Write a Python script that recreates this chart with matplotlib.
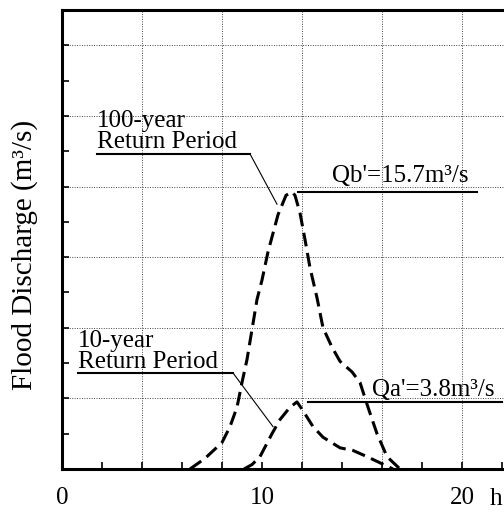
import matplotlib.pyplot as plt

plt.rcParams['font.family'] = ['Liberation Serif', 'DejaVu Serif']

# hydrograph, 100-year return period (hours, m3/s)
hours_100 = [6.4, 7.15, 8.0, 8.4, 8.75, 9.0, 9.25, 9.5, 9.75, 10.0, 10.3, 10.8,
             11.2, 11.5, 11.65, 11.9, 12.15, 12.4, 12.75, 13.05, 13.5, 13.9,
             14.5, 14.9, 15.3, 15.75, 16.25, 16.9]
flow_100 = [0, 0.6, 1.5, 2.4, 3.5, 4.9, 6.2, 7.9, 9.6, 10.7, 12.3, 14.4,
            15.5, 15.7, 15.5, 14.5, 13.0, 11.4, 9.7, 8.0, 6.9, 6.1,
            5.5, 4.9, 3.5, 2.0, 0.7, 0]

# hydrograph, 10-year return period
hours_10 = [9.1, 9.5, 9.9, 10.5, 10.9, 11.4, 11.75, 12.05, 12.55, 13.05,
            13.9, 14.55, 15.25, 15.9, 16.55]
flow_10 = [0, 0.25, 0.7, 2.0, 2.8, 3.5, 3.8, 3.3, 2.4, 1.8,
           1.2, 1.05, 0.7, 0.35, 0]

peak_100 = 15.7
peak_10 = 3.8

x_ticks = list(range(0, 25, 2))
x_labels = ['0' if t == 0 else '10' if t == 10 else '20' if t == 20 else '' for t in x_ticks]
y_ticks = list(range(0, 27, 2))
grid_x = [4, 8, 12, 16, 20]
grid_y = [4, 8, 12, 16, 20, 24]

fig = plt.figure(figsize=(5.04, 5.15), dpi=100)
ax = fig.add_axes([62 / 504, 46 / 515, 480 / 504, 459 / 515])
ax.set_xlim(0, 24)
ax.set_ylim(0, 26)

# dotted grid
for gx in grid_x:
    ax.axvline(gx, color='#444444', lw=0.7, ls=(0, (1, 1.5)), zorder=0)
for gy in grid_y:
    ax.axhline(gy, color='#444444', lw=0.7, ls=(0, (1, 1.5)), zorder=0)

# curves
ax.plot(hours_100, flow_100, color='black', lw=2.2, dashes=[4.5, 2.2])
ax.plot(hours_10, flow_10, color='black', lw=2.2, dashes=[4.5, 2.2])

# labels with leader lines
ax.plot([1.75, 9.4], [17.85, 17.85], color='black', lw=1.5)
ax.plot([9.4, 10.75], [17.85, 15.0], color='black', lw=0.8)
ax.text(1.75, 19.4, '100-year', fontsize=18, ha='left', va='baseline')
ax.text(1.75, 18.2, 'Return Period', fontsize=18, ha='left', va='baseline')

ax.plot([0.8, 8.55], [5.44, 5.44], color='black', lw=1.5)
ax.plot([8.55, 10.55], [5.44, 2.4], color='black', lw=0.8)
ax.text(0.8, 6.9, '10-year', fontsize=18, ha='left', va='baseline')
ax.text(0.8, 5.72, 'Return Period', fontsize=18, ha='left', va='baseline')

ax.plot([11.8, 20.75], [peak_100, peak_100], color='black', lw=1.5)
ax.text(13.5, 16.25, "Qb'=15.7m³/s", fontsize=18, ha='left', va='baseline')

ax.plot([12.3, 22.0], [peak_10, peak_10], color='black', lw=1.5)
ax.text(15.5, 4.15, "Qa'=3.8m³/s", fontsize=18, ha='left', va='baseline')

# axes styling
ax.set_xticks(x_ticks)
ax.set_xticklabels(x_labels, fontsize=18)
ax.set_yticks(y_ticks)
ax.set_yticklabels([])
ax.tick_params(direction='in', length=5, width=1.2, pad=13)
ax.spines['right'].set_visible(False)
for s in ['left', 'bottom', 'top']:
    ax.spines[s].set_linewidth(2.2)

fig.text(25 / 504, 0.505, 'Flood Discharge (m³/s)', rotation=90,
         fontsize=21, ha='center', va='center')
fig.text(496 / 504, 0.02, 'h', fontsize=18, ha='center', va='baseline')

plt.savefig('out.png', dpi=100)
